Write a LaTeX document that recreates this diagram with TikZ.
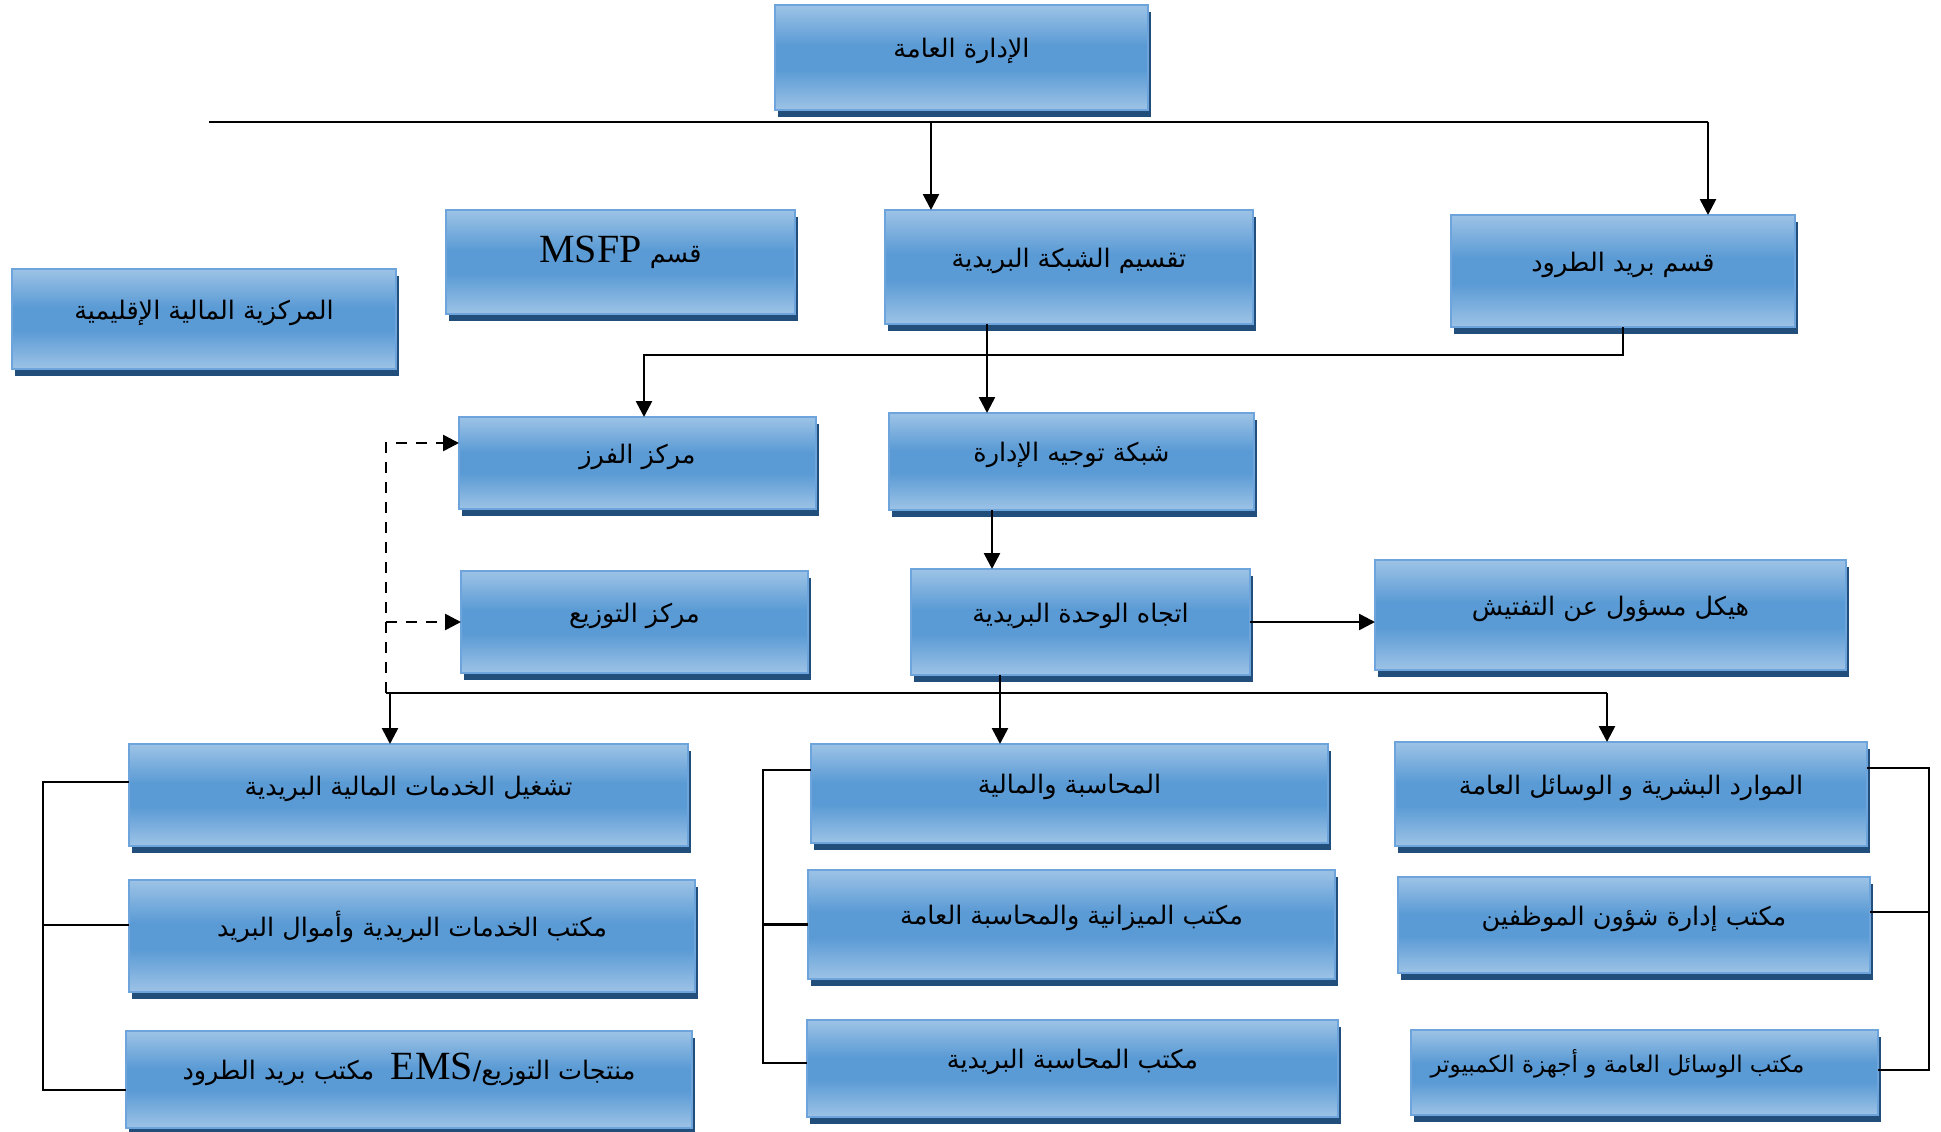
\documentclass[tikz,border=0pt]{standalone}
\usepackage{fontspec}
\setmainfont{Liberation Serif}
\newfontfamily\arabicfont[Script=Arabic]{DejaVu Sans}
\newfontfamily\latinfont{Liberation Serif}
\TeXXeTstate=1
\usetikzlibrary{arrows.meta, positioning, shadows, calc}
\definecolor{boxlight}{RGB}{157,195,230}
\definecolor{boxmid}{RGB}{91,155,213}
\definecolor{boxedge}{RGB}{108,164,219}
\definecolor{boxshadow}{RGB}{33,78,122}
\pgfdeclareverticalshading{boxfill}{100bp}{color(0bp)=(boxlight); color(25bp)=(boxlight); color(44bp)=(boxmid); color(56bp)=(boxmid); color(75bp)=(boxlight); color(100bp)=(boxlight)}
\tikzset{%
  box/.style={
    rectangle,
    draw=boxedge,
    line width=2pt,
    shading=boxfill,
    inner sep=0pt,
    outer sep=0pt,
    text height=20pt,
    text depth=20pt,
    font=\arabicfont\fontsize{25.5}{30}\selectfont,
    drop shadow={shadow xshift=3pt, shadow yshift=-7pt, fill=boxshadow, opacity=1}
  },
  link/.style={line width=2.3pt},
  move/.style={line width=2.6pt, -{Triangle[length=16pt,width=16pt]}},
  dashmove/.style={move, dash pattern=on 11pt off 9pt}
}

\begin{document}
\begin{tikzpicture}[x=1pt, y=-1pt]
  \useasboundingbox (0,0) rectangle (1941,1132);

  % top levels
  \node[box, minimum width=373pt, minimum height=105pt] (gen) at (961.5,57.5) {\beginR الإدارة العامة\endR};
  \node[box, minimum width=384pt, minimum height=100pt] (region) at (204,319) {\beginR المركزية المالية الإقليمية\endR};
  \node[box, minimum width=349pt, minimum height=104pt] (msfp) at (620.5,262) {\beginR قسم \beginL{\latinfont\fontsize{40}{44}\selectfont MSFP}\endL\endR};
  \node[box, minimum width=368pt, minimum height=114pt] (network) at (1069,267) {\beginR تقسيم الشبكة البريدية\endR};
  \node[box, minimum width=344pt, minimum height=112pt] (parcel) at (1623,271) {\beginR قسم بريد الطرود\endR};

  \node[box, minimum width=357pt, minimum height=92pt] (sorting) at (637.5,463) {\beginR مركز الفرز\endR};
  \node[box, minimum width=365pt, minimum height=97pt] (routing) at (1071.5,461.5) {\beginR شبكة توجيه الإدارة\endR};
  \node[box, minimum width=347pt, minimum height=102pt] (distrib) at (634.5,622) {\beginR مركز التوزيع\endR};
  \node[box, minimum width=339pt, minimum height=106pt] (unitdir) at (1080.5,622) {\beginR اتجاه الوحدة البريدية\endR};
  \node[box, minimum width=471pt, minimum height=110pt] (inspect) at (1610.5,615) {\beginR هيكل مسؤول عن التفتيش\endR};

  % bottom columns
  \node[box, minimum width=559pt, minimum height=102pt] (finserv) at (408.5,795) {\beginR تشغيل الخدمات المالية البريدية\endR};
  \node[box, minimum width=566pt, minimum height=112pt] (postfunds) at (412,936) {\beginR مكتب الخدمات البريدية وأموال البريد\endR};
  \node[box, minimum width=566pt, minimum height=97pt] (ems) at (409,1079.5) {\beginR منتجات التوزيع/\beginL{\latinfont\fontsize{40}{44}\selectfont EMS}\endL\ \ مكتب بريد الطرود\endR};

  \node[box, minimum width=517pt, minimum height=99pt] (accfin) at (1069.5,793.5) {\beginR المحاسبة والمالية\endR};
  \node[box, minimum width=527pt, minimum height=109pt] (budget) at (1071.5,924.5) {\beginR مكتب الميزانية والمحاسبة العامة\endR};
  \node[box, minimum width=531pt, minimum height=97pt] (postacc) at (1072.5,1068.5) {\beginR مكتب المحاسبة البريدية\endR};

  \node[box, minimum width=472pt, minimum height=104pt] (hr) at (1631,794) {\beginR الموارد البشرية و الوسائل العامة\endR};
  \node[box, minimum width=472pt, minimum height=96pt] (staff) at (1634,925) {\beginR مكتب إدارة شؤون الموظفين\endR};
  \node[box, minimum width=467pt, minimum height=85pt, font=\arabicfont\fontsize{23}{27}\selectfont] (means) at (1644.5,1072.5) {\beginR مكتب الوسائل العامة و أجهزة الكمبيوتر\endR\hspace*{54pt}};

  % junction points
  \coordinate (busL) at (209,122);
  \coordinate (busN) at (931,122);
  \coordinate (busR) at (1708,122);
  \coordinate (parcelJ) at (644,355);
  \coordinate (netx) at (987,0);
  \coordinate (routx) at (992,0);
  \coordinate (b2L) at (386,693);
  \coordinate (b2F) at (390,693);
  \coordinate (b2M) at (1000,693);
  \coordinate (b2R) at (1607,693);
  \coordinate (sortin) at ([yshift=20pt]sorting.west);

  \draw[link] (busL) -- (busR);
  \draw[move] (busN) -- (busN |- network.north);
  \draw[move] (busR) -- (busR |- parcel.north);
  \draw[move] (parcel.south) |- (parcelJ) -- (parcelJ |- sorting.north);
  \draw[move] (netx |- network.south) -- (netx |- routing.north);
  \draw[move] (routx |- routing.south) -- (routx |- unitdir.north);
  \draw[move] (unitdir.east) -- (unitdir.east -| inspect.west);

  \draw[link] (b2L) -- (b2R);
  \draw[move] (b2M |- unitdir.south) -- (b2M |- accfin.north);
  \draw[move] (b2F) -- (b2F |- finserv.north);
  \draw[move] (b2R) -- (b2R |- hr.north);
  \draw[dashmove] (b2L) |- (sortin);
  \draw[dashmove] (b2L |- distrib.west) -- (distrib.west);

  % brackets
  \coordinate (lbx) at (43,0);
  \coordinate (mbx) at (763,0);
  \coordinate (rbx) at (1929,0);
  \coordinate (l1) at ([yshift=13pt]finserv.west);
  \coordinate (l2) at ([yshift=11pt]postfunds.west);
  \coordinate (l3) at ([yshift=-10.5pt]ems.west);
  \coordinate (m1) at ([yshift=23.5pt]accfin.west);
  \coordinate (m2) at (budget.west);
  \coordinate (m3) at ([yshift=5.5pt]postacc.west);
  \coordinate (r1) at ([yshift=26pt]hr.east);
  \coordinate (r2) at ([yshift=13pt]staff.east);
  \coordinate (r3) at ([yshift=2.5pt]means.east);

  \draw[link] (l1) -| (lbx |- l3) -- (l3);
  \draw[link] (l2) -- (lbx |- l2);
  \draw[link] (m1) -| (mbx |- m3) -- (m3);
  \draw[link] (m2) -- (mbx |- m2);
  \draw[link] (r1) -| (rbx |- r3) -- (r3);
  \draw[link] (r2) -- (rbx |- r2);
\end{tikzpicture}
\end{document}
